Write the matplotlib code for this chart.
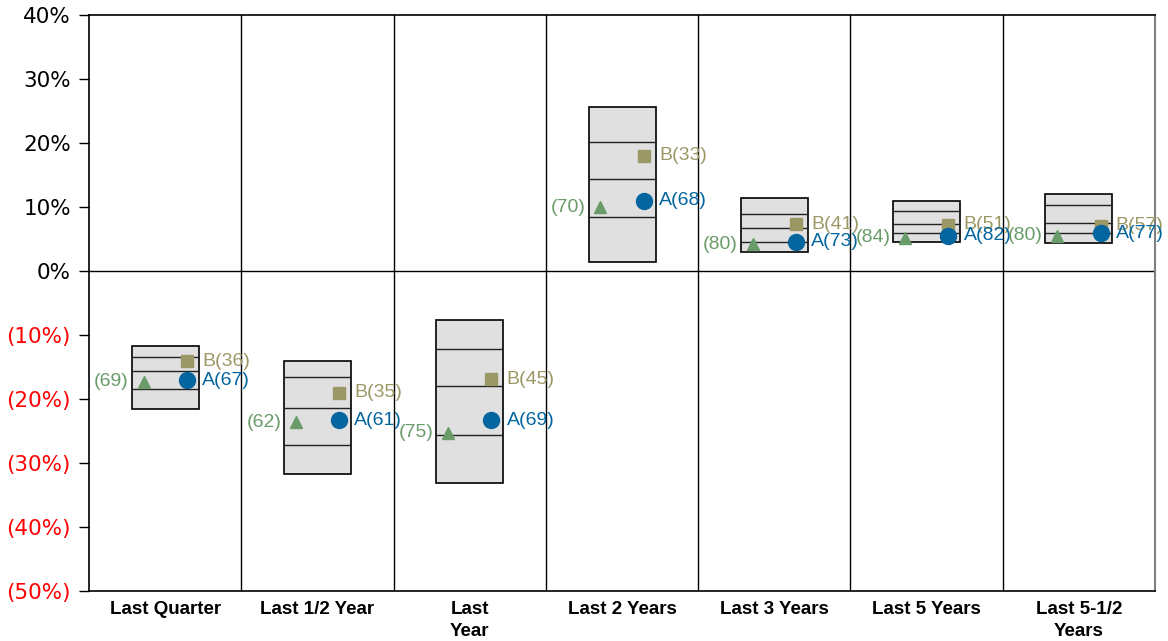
import numpy as np
import matplotlib.pyplot as plt

# categories and values (percent)
cats = ['Last Quarter', 'Last 1/2 Year', 'Last\nYear', 'Last 2 Years',
        'Last 3 Years', 'Last 5 Years', 'Last 5-1/2\nYears']
p_top = [-11.7, -14.0, -7.7, 25.6, 11.4, 11.0, 12.1]
p_q1 = [-13.4, -16.5, -12.2, 20.2, 8.9, 9.4, 10.3]
p_med = [-15.6, -21.4, -18.0, 14.4, 6.7, 7.3, 7.5]
p_q3 = [-18.5, -27.2, -25.6, 8.4, 4.6, 5.9, 5.9]
p_bot = [-21.5, -31.7, -33.2, 1.4, 3.0, 4.5, 4.3]

a_val = [-17.1, -23.3, -23.3, 11.0, 4.6, 5.5, 5.9]
a_rank = [67, 61, 69, 68, 73, 82, 77]
b_val = [-14.1, -19.0, -16.9, 18.0, 7.3, 7.2, 7.1]
b_rank = [36, 35, 45, 33, 41, 51, 57]
idx_val = [-17.3, -23.6, -25.3, 10.0, 4.2, 5.2, 5.5]
idx_rank = [69, 62, 75, 70, 80, 84, 80]

yticks = [40, 30, 20, 10, 0, -10, -20, -30, -40, -50]

green = '#6a9c6a'
khaki = '#9c9866'
blue = '#04659f'

fig = plt.figure(figsize=(11.68, 6.41), dpi=100)
ax = fig.add_axes([0.0762, 0.078, 0.9127, 0.8986])

x = np.arange(len(cats))
w = 0.44
off = 0.142

# floating boxes
lo = np.array(p_bot)
hi = np.array(p_top)
ax.bar(x, hi - lo, bottom=lo, width=w, color='#e0e0e0', edgecolor='black',
       linewidth=1.2, zorder=2)
for q in (p_q1, p_med, p_q3):
    ax.hlines(q, x - w / 2, x + w / 2, colors='#222222', linewidth=1.0, zorder=3)

# markers
ax.plot(x - off, idx_val, '^', color=green, markersize=9, linestyle='none', zorder=4)
ax.plot(x + off, b_val, 's', color=khaki, markersize=9, linestyle='none', zorder=4)
ax.plot(x + off, a_val, 'o', color=blue, markersize=11.5, linestyle='none', zorder=5)

lab_font = dict(family='Liberation Sans', fontsize=14)
for i in range(len(cats)):
    ax.annotate('(%d)' % idx_rank[i], (x[i] - off, idx_val[i]), xytext=(-10.5, 0),
                textcoords='offset points', ha='right', va='center',
                color=green, zorder=6, **lab_font)
    ax.annotate('B(%d)' % b_rank[i], (x[i] + off, b_val[i]), xytext=(11, 0),
                textcoords='offset points', ha='left', va='center',
                color=khaki, zorder=6, **lab_font)
    ax.annotate('A(%d)' % a_rank[i], (x[i] + off, a_val[i]), xytext=(11, 0),
                textcoords='offset points', ha='left', va='center',
                color=blue, zorder=6, **lab_font)

# dividers and zero line
for d in np.arange(0.5, len(cats) - 1, 1.0):
    ax.axvline(d, color='black', linewidth=1.0, zorder=1)
ax.axhline(0, color='black', linewidth=1.0, zorder=1)

ax.set_xlim(-0.5, len(cats) - 0.5)
ax.set_ylim(-50, 40)

ax.set_yticks(yticks)
ylabels = [('%d%%' % v) if v >= 0 else ('(%d%%)' % -v) for v in yticks]
ax.set_yticklabels(ylabels, fontsize=15.5, family='DejaVu Sans')
for t, v in zip(ax.get_yticklabels(), yticks):
    t.set_color('black' if v >= 0 else 'red')
ax.tick_params(axis='y', direction='out', length=7, width=1, pad=6)

ax.set_xticks(x)
ax.set_xticklabels(cats, fontsize=13.5, fontweight='bold', family='Liberation Sans',
                   linespacing=1.4, va='top')
ax.tick_params(axis='x', length=0, pad=7)

for s in ('left', 'top', 'bottom'):
    ax.spines[s].set_color('black')
    ax.spines[s].set_linewidth(1.2)
ax.spines['right'].set_color('#808080')
ax.spines['right'].set_linewidth(1.5)

fig.savefig('out.png', dpi=100)
